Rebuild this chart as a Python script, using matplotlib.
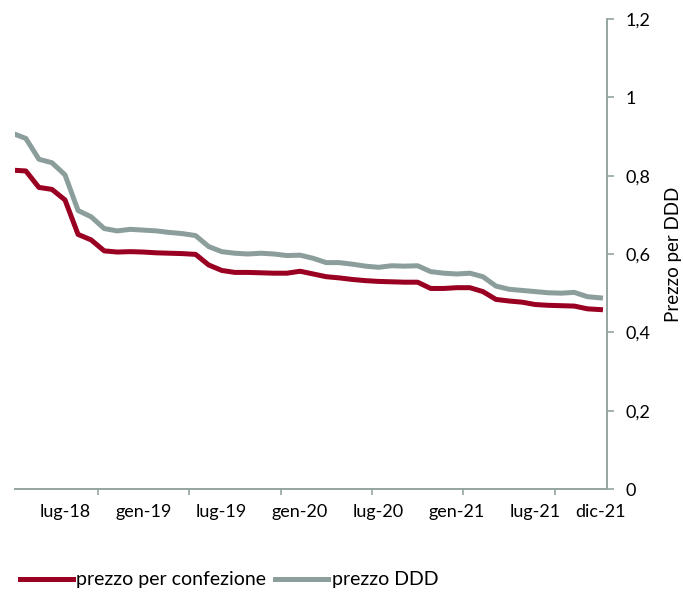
import matplotlib.pyplot as plt
import numpy as np

plt.rcParams['font.family'] = ['Lato', 'DejaVu Sans']

# months from gen-18 (index 0) to dic-21 (index 47); data visible from mar-18
month_names = ['gen', 'feb', 'mar', 'apr', 'mag', 'giu', 'lug', 'ago', 'set', 'ott', 'nov', 'dic']
months = [f"{m}-{y}" for y in range(18, 22) for m in month_names]

prezzo_confezione = [
    0.814, 0.812, 0.770, 0.765, 0.738, 0.650, 0.636, 0.608, 0.605, 0.606,
    0.605, 0.603, 0.602, 0.601, 0.599, 0.572, 0.558, 0.553, 0.553, 0.552, 0.551, 0.551,
    0.556, 0.549, 0.542, 0.539, 0.535, 0.532, 0.530, 0.529, 0.528, 0.528, 0.512, 0.512,
    0.514, 0.514, 0.504, 0.484, 0.480, 0.477, 0.471, 0.469, 0.468, 0.467, 0.460, 0.458,
]
prezzo_ddd = [
    0.908, 0.895, 0.842, 0.833, 0.802, 0.711, 0.695, 0.665, 0.659, 0.663,
    0.661, 0.659, 0.655, 0.652, 0.647, 0.619, 0.606, 0.602, 0.600, 0.602, 0.600, 0.596,
    0.597, 0.589, 0.578, 0.578, 0.574, 0.569, 0.566, 0.570, 0.569, 0.570, 0.555, 0.551,
    0.549, 0.551, 0.542, 0.518, 0.510, 0.507, 0.504, 0.501, 0.500, 0.502, 0.491, 0.488,
]
first_month = months.index('mar-18')
label_months = ['lug-18', 'gen-19', 'lug-19', 'gen-20', 'lug-20', 'gen-21', 'lug-21', 'dic-21']
y_ticks = [0, 0.2, 0.4, 0.6, 0.8, 1.0, 1.2]

red = '#990021'
grey = '#8c9e9b'
axis_col = '#95a5a2'

x = np.arange(first_month, first_month + len(prezzo_confezione))

fig = plt.figure(figsize=(6.83, 5.92), dpi=100)
ax = fig.add_axes([15 / 683, 103 / 592, 592 / 683, 470 / 592])

ax.plot(x, prezzo_confezione, color=red, lw=3.6, solid_joinstyle='round',
        label='prezzo per confezione')
ax.plot(x, prezzo_ddd, color=grey, lw=3.6, solid_joinstyle='round',
        label='prezzo DDD')

ax.set_xlim(2.17, len(months) - 0.5)
ax.set_ylim(0, 1.2)

# y axis on the right
ax.yaxis.tick_right()
ax.yaxis.set_label_position('right')
ax.set_yticks(y_ticks)
ax.set_yticklabels([f"{v:g}".replace('.', ',') for v in y_ticks])
ax.set_ylabel('Prezzo per DDD', fontsize=13.5, labelpad=11)

# tick marks every 7 months, labels every 6
ax.set_xticks(np.arange(8.5, len(months), 7))
ax.set_xticklabels([])
ax.set_xticks([months.index(m) for m in label_months], minor=True)
ax.set_xticklabels(label_months, minor=True)
ax.tick_params(axis='x', which='major', length=4, color=axis_col, width=1.2)
ax.tick_params(axis='x', which='minor', length=0, pad=11, labelsize=13)
ax.tick_params(axis='y', length=5, color=axis_col, width=1.2, pad=8, labelsize=13)

for s in ['top', 'left']:
    ax.spines[s].set_visible(False)
for s in ['bottom', 'right']:
    ax.spines[s].set_color(axis_col)
    ax.spines[s].set_linewidth(1.4)

fig.legend(loc='center left', bbox_to_anchor=(20 / 683, 12 / 592), ncol=2,
           frameon=False, fontsize=14, handlelength=2.7, handletextpad=0.2,
           columnspacing=0.45, borderpad=0, borderaxespad=0)

fig.savefig('out.png', dpi=100)
